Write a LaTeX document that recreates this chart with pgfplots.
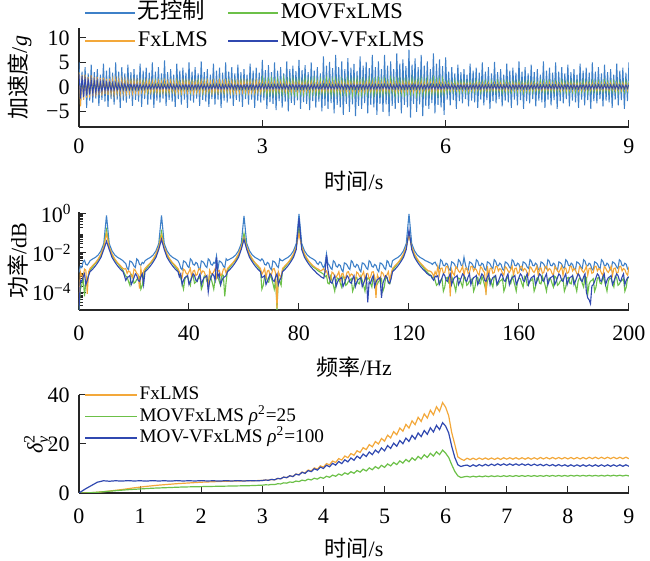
\documentclass[border=0pt]{standalone}
\usepackage{fontspec}
\setmainfont{Liberation Serif}
\newfontfamily\cjk{Noto Sans CJK SC}
\usepackage{pgfplots}
\usepackage{pgfplotstable}
\pgfplotsset{compat=1.18}
\definecolor{cNC}{RGB}{62,128,200}
\definecolor{cFX}{RGB}{243,168,58}
\definecolor{cMOV}{RGB}{108,192,72}
\definecolor{cMOVV}{RGB}{48,72,176}

% time signals (g)
\pgfplotstableread{
t nc fx mov movv
0.000 5.0 3.0 1.0 2.6
0.025 -3.65 -4.0 -0.9 -2.4
0.050 3.1 2.4 0.8 2.2
0.075 -2.6 -2.6 -0.85 -2.1
0.100 4.0 2.5 0.95 2.0
0.125 -4.3 -2.2 -0.8 -1.8
0.150 2.75 2.0 0.75 1.7
0.175 -2.8 -2.2 -1.0 -1.6
0.200 4.5 2.4 1.1 1.5
0.225 -3.2 -1.9 -0.85 -1.4
0.250 3.0 2.0 0.85 1.35
0.275 -2.4 -2.0 -0.9 -1.25
0.300 3.6 2.0 0.9 1.2
0.325 -3.9 -1.7 -0.8 -1.1
0.350 2.5 1.75 0.8 1.05
0.375 -2.65 -1.8 -0.95 -1.0
0.400 4.75 1.85 0.95 1.0
0.425 -3.0 -1.5 -0.75 -0.9
0.450 3.3 1.6 0.75 0.9
0.475 -4.1 -1.7 -1.1 -0.85
0.500 3.9 1.65 1.1 0.85
0.525 -2.5 -1.4 -0.85 -0.8
0.550 2.9 1.45 0.85 0.8
0.575 -3.65 -1.55 -0.9 -0.75
0.600 5.0 1.5 0.9 0.75
0.625 -2.6 -1.3 -1.0 -0.7
0.650 3.1 1.35 1.0 0.7
0.675 -4.3 -1.45 -0.8 -0.68
0.700 4.0 1.45 0.8 0.68
0.725 -2.8 -1.2 -0.95 -0.65
0.750 2.75 1.3 0.95 0.65
0.775 -3.2 -1.35 -0.75 -0.62
0.800 4.5 1.35 0.75 0.63
0.825 -2.4 -1.15 -1.1 -0.6
0.850 3.0 1.2 1.1 0.6
0.875 -3.9 -1.3 -0.85 -0.58
0.900 3.6 1.3 0.85 0.58
0.925 -2.65 -1.1 -0.9 -0.55
0.950 2.5 1.15 0.9 0.56
0.975 -3.0 -1.2 -1.0 -0.55
1.000 4.75 1.25 1.0 0.55
1.025 -4.1 -1.0 -0.8 -0.5
1.050 3.3 0.92 1.15 0.43
1.075 -2.5 -1.15 -1.05 -0.5
1.100 3.9 1.2 0.92 0.48
1.125 -3.65 -0.98 -1.15 -0.43
1.150 2.9 1.05 1.1 0.4
1.175 -2.6 -1.1 -0.92 -0.48
1.200 5.0 1.15 0.86 0.45
1.225 -4.3 -0.92 -1.1 -0.4
1.250 3.1 0.98 1.25 0.5
1.275 -2.8 -1.2 -0.86 -0.45
1.300 4.0 1.1 0.98 0.43
1.325 -3.2 -1.05 -1.25 -0.5
1.350 2.75 0.92 1.05 0.48
1.375 -2.4 -1.15 -0.98 -0.43
1.400 5.4 1.2 1.15 0.4
1.425 -3.9 -0.98 -1.05 -0.48
1.450 3.0 1.05 0.92 0.45
1.475 -2.65 -1.1 -1.15 -0.4
1.500 3.6 1.15 1.1 0.5
1.525 -3.0 -0.92 -0.92 -0.45
1.550 2.5 0.98 0.86 0.43
1.575 -4.1 -1.2 -1.1 -0.5
1.600 4.75 1.1 1.25 0.48
1.625 -2.5 -1.05 -0.86 -0.43
1.650 3.3 0.92 0.98 0.4
1.675 -3.65 -1.15 -1.25 -0.48
1.700 3.9 1.2 1.05 0.45
1.725 -2.6 -0.98 -0.98 -0.4
1.750 2.9 1.05 1.15 0.5
1.775 -4.3 -1.1 -1.05 -0.45
1.800 5.0 1.15 0.92 0.43
1.825 -2.8 -0.92 -1.15 -0.5
1.850 3.1 0.98 1.1 0.48
1.875 -3.2 -1.2 -0.92 -0.43
1.900 4.0 1.1 0.86 0.4
1.925 -2.4 -1.05 -1.1 -0.48
1.950 2.75 0.92 1.25 0.45
1.975 -3.9 -1.15 -0.86 -0.4
2.000 5.2 1.2 0.98 0.5
2.025 -2.65 -0.98 -1.25 -0.45
2.050 3.0 1.05 1.05 0.43
2.075 -3.0 -1.1 -0.98 -0.5
2.100 3.6 1.15 1.15 0.48
2.125 -4.1 -0.92 -1.05 -0.43
2.150 2.5 0.98 0.92 0.4
2.175 -2.5 -1.2 -1.15 -0.48
2.200 4.75 1.1 1.1 0.45
2.225 -3.65 -1.05 -0.92 -0.4
2.250 3.3 0.92 0.86 0.5
2.275 -2.6 -1.15 -1.1 -0.45
2.300 3.9 1.2 1.25 0.43
2.325 -4.3 -0.98 -0.86 -0.5
2.350 2.9 1.05 0.98 0.48
2.375 -2.8 -1.1 -1.25 -0.43
2.400 5.0 1.15 1.05 0.4
2.425 -3.2 -0.92 -0.98 -0.48
2.450 3.1 0.98 1.15 0.45
2.475 -2.4 -1.2 -1.05 -0.4
2.500 4.0 1.1 0.92 0.5
2.525 -3.9 -1.05 -1.15 -0.45
2.550 2.75 0.92 1.1 0.43
2.575 -2.65 -1.15 -0.92 -0.5
2.600 4.5 1.2 0.86 0.48
2.625 -3.0 -0.98 -1.1 -0.43
2.650 3.0 1.05 1.25 0.4
2.675 -4.1 -1.1 -0.86 -0.48
2.700 3.6 1.15 0.98 0.45
2.725 -2.5 -0.92 -1.25 -0.4
2.750 2.5 0.98 1.05 0.5
2.775 -3.65 -1.2 -0.98 -0.45
2.800 4.75 1.1 1.15 0.43
2.825 -2.6 -1.05 -1.05 -0.5
2.850 3.3 0.92 0.92 0.48
2.875 -4.3 -1.15 -1.15 -0.43
2.900 3.9 1.2 1.1 0.4
2.925 -2.8 -0.98 -0.92 -0.48
2.950 2.9 1.05 0.86 0.45
2.975 -3.2 -1.1 -1.1 -0.4
3.000 5.5 0.9 1.65 0.5
3.025 -2.75 -0.72 -1.12 -0.45
3.050 3.4 0.77 1.28 0.43
3.075 -4.5 -0.95 -1.65 -0.5
3.100 4.4 0.86 1.35 0.48
3.125 -3.1 -0.8 -1.28 -0.43
3.150 3.0 0.72 1.5 0.4
3.175 -3.5 -0.9 -1.35 -0.48
3.200 5.0 0.95 1.2 0.45
3.225 -4.75 -0.77 -1.5 -0.4
3.250 3.3 0.8 1.42 0.5
3.275 -2.9 -0.86 -1.2 -0.45
3.300 4.0 0.9 1.12 0.43
3.325 -4.25 -0.72 -1.42 -0.5
3.350 2.75 0.77 1.65 0.48
3.375 -3.0 -0.95 -1.12 -0.43
3.400 5.2 0.86 1.28 0.4
3.425 -5.0 -0.8 -1.65 -0.48
3.450 3.6 0.72 1.35 0.45
3.475 -3.25 -0.9 -1.28 -0.4
3.500 4.3 0.95 1.5 0.5
3.525 -3.75 -0.77 -1.35 -0.45
3.550 3.2 0.8 1.2 0.43
3.575 -2.75 -0.86 -1.5 -0.5
3.600 5.5 0.9 1.42 0.48
3.625 -4.5 -0.72 -1.2 -0.43
3.650 3.4 0.77 1.12 0.4
3.675 -3.1 -0.95 -1.42 -0.48
3.700 4.4 0.86 1.65 0.45
3.725 -3.5 -0.8 -1.12 -0.4
3.750 3.0 0.72 1.28 0.5
3.775 -4.75 -0.9 -1.65 -0.45
3.800 5.0 0.95 1.35 0.43
3.825 -2.9 -0.77 -1.28 -0.5
3.850 3.3 0.8 1.5 0.48
3.875 -4.25 -0.86 -1.35 -0.43
3.900 4.0 0.9 1.2 0.4
3.925 -3.0 -0.72 -1.5 -0.48
3.950 2.75 0.77 1.42 0.45
3.975 -5.0 -0.95 -1.2 -0.4
4.000 6.2 0.86 1.12 0.5
4.025 -3.9 -0.8 -1.42 -0.45
4.050 4.3 0.72 1.65 0.43
4.075 -4.5 -0.9 -1.12 -0.5
4.100 5.1 0.95 1.28 0.48
4.125 -3.3 -0.77 -1.65 -0.43
4.150 3.8 0.8 1.35 0.4
4.175 -5.4 -0.86 -1.28 -0.48
4.200 6.5 0.9 1.5 0.45
4.225 -3.7 -0.72 -1.35 -0.4
4.250 4.0 0.77 1.2 0.5
4.275 -4.2 -0.95 -1.5 -0.45
4.300 5.2 0.86 1.42 0.43
4.325 -5.7 -0.8 -1.2 -0.5
4.350 3.6 0.72 1.12 0.48
4.375 -3.5 -0.9 -1.42 -0.43
4.400 5.85 0.95 1.65 0.4
4.425 -5.1 -0.77 -1.12 -0.48
4.450 3.9 0.8 1.28 0.45
4.475 -3.6 -0.86 -1.65 -0.4
4.500 4.7 0.9 1.35 0.5
4.525 -6.0 -0.72 -1.28 -0.45
4.550 3.25 0.77 1.5 0.43
4.575 -3.9 -0.95 -1.35 -0.5
4.600 6.2 0.86 1.2 0.48
4.625 -4.5 -0.8 -1.5 -0.43
4.650 4.3 0.72 1.42 0.4
4.675 -3.3 -0.9 -1.2 -0.48
4.700 5.1 0.95 1.12 0.45
4.725 -5.4 -0.77 -1.42 -0.4
4.750 3.8 0.8 1.65 0.5
4.775 -3.7 -0.86 -1.12 -0.45
4.800 6.5 0.9 1.28 0.43
4.825 -4.2 -0.72 -1.65 -0.5
4.850 4.0 0.77 1.35 0.48
4.875 -5.7 -0.95 -1.28 -0.43
4.900 5.2 0.86 1.5 0.4
4.925 -3.5 -0.8 -1.35 -0.48
4.950 3.6 0.72 1.2 0.45
4.975 -5.1 -0.9 -1.5 -0.4
5.000 6.5 0.95 1.42 0.5
5.025 -3.6 -0.77 -1.2 -0.45
5.050 4.3 0.8 1.12 0.43
5.075 -6.0 -0.86 -1.42 -0.5
5.100 5.2 0.9 1.65 0.48
5.125 -3.9 -0.72 -1.12 -0.43
5.150 3.6 0.77 1.28 0.4
5.175 -4.5 -0.95 -1.65 -0.48
5.200 6.8 0.86 1.35 0.45
5.225 -3.3 -0.8 -1.28 -0.4
5.250 4.75 0.72 1.5 0.5
5.275 -5.4 -0.9 -1.35 -0.45
5.300 5.6 0.95 1.2 0.43
5.325 -3.7 -0.77 -1.5 -0.5
5.350 4.2 0.8 1.42 0.48
5.375 -4.2 -0.86 -1.2 -0.43
5.400 7.6 0.9 1.12 0.4
5.425 -6.3 -0.72 -1.42 -0.48
5.450 4.5 0.77 1.65 0.45
5.475 -3.5 -0.95 -1.12 -0.4
5.500 5.8 0.86 1.28 0.5
5.525 -5.1 -0.8 -1.65 -0.45
5.550 4.0 0.72 1.35 0.43
5.575 -3.6 -0.9 -1.28 -0.5
5.600 6.5 0.95 1.5 0.48
5.625 -6.0 -0.77 -1.35 -0.43
5.650 4.3 0.8 1.2 0.4
5.675 -3.9 -0.86 -1.5 -0.48
5.700 5.2 0.9 1.42 0.45
5.725 -4.5 -0.72 -1.2 -0.4
5.750 3.6 0.77 1.12 0.5
5.775 -3.3 -0.95 -1.42 -0.45
5.800 6.8 0.86 1.65 0.43
5.825 -5.4 -0.8 -1.12 -0.5
5.850 4.75 0.72 1.28 0.48
5.875 -3.7 -0.9 -1.65 -0.43
5.900 5.6 0.95 1.35 0.4
5.925 -4.2 -0.77 -1.28 -0.48
5.950 4.2 0.8 1.5 0.45
5.975 -5.7 -0.86 -1.35 -0.4
6.000 6.0 0.7 0.84 0.45
6.025 -2.6 -0.56 -1.05 -0.4
6.050 3.1 0.6 1.0 0.38
6.075 -3.8 -0.74 -0.84 -0.45
6.100 4.0 0.67 0.79 0.43
6.125 -2.7 -0.63 -1.0 -0.38
6.150 2.75 0.56 1.15 0.36
6.175 -4.5 -0.7 -0.79 -0.43
6.200 4.5 0.74 0.9 0.4
6.225 -2.9 -0.6 -1.15 -0.36
6.250 3.0 0.63 0.95 0.45
6.275 -3.4 -0.67 -0.9 -0.4
6.300 3.6 0.7 1.05 0.38
6.325 -2.5 -0.56 -0.95 -0.45
6.350 2.5 0.6 0.84 0.43
6.375 -4.0 -0.74 -1.05 -0.38
6.400 4.75 0.67 1.0 0.36
6.425 -2.8 -0.63 -0.84 -0.43
6.450 3.3 0.56 0.79 0.4
6.475 -3.15 -0.7 -1.0 -0.36
6.500 3.9 0.74 1.15 0.45
6.525 -4.3 -0.6 -0.79 -0.4
6.550 2.9 0.63 0.9 0.38
6.575 -2.6 -0.67 -1.15 -0.45
6.600 5.0 0.7 0.95 0.43
6.625 -3.8 -0.56 -0.9 -0.38
6.650 3.1 0.6 1.05 0.36
6.675 -2.7 -0.74 -0.95 -0.43
6.700 4.0 0.67 0.84 0.4
6.725 -4.5 -0.63 -1.05 -0.36
6.750 2.75 0.56 1.0 0.45
6.775 -2.9 -0.7 -0.84 -0.4
6.800 5.1 0.74 0.79 0.38
6.825 -3.4 -0.6 -1.0 -0.45
6.850 3.0 0.63 1.15 0.43
6.875 -2.5 -0.67 -0.79 -0.38
6.900 3.6 0.7 0.9 0.36
6.925 -4.0 -0.56 -1.15 -0.43
6.950 2.5 0.6 0.95 0.4
6.975 -2.8 -0.74 -0.9 -0.36
7.000 4.75 0.67 1.05 0.45
7.025 -3.15 -0.63 -0.95 -0.4
7.050 3.3 0.56 0.84 0.38
7.075 -4.3 -0.7 -1.05 -0.45
7.100 3.9 0.74 1.0 0.43
7.125 -2.6 -0.6 -0.84 -0.38
7.150 2.9 0.63 0.79 0.36
7.175 -3.8 -0.67 -1.0 -0.43
7.200 5.2 0.7 1.15 0.4
7.225 -2.7 -0.56 -0.79 -0.36
7.250 3.1 0.6 0.9 0.45
7.275 -4.5 -0.74 -1.15 -0.4
7.300 4.0 0.67 0.95 0.38
7.325 -2.9 -0.63 -0.9 -0.45
7.350 2.75 0.56 1.05 0.43
7.375 -3.4 -0.7 -0.95 -0.38
7.400 4.5 0.74 0.84 0.36
7.425 -2.5 -0.6 -1.05 -0.43
7.450 3.0 0.63 1.0 0.4
7.475 -4.0 -0.67 -0.84 -0.36
7.500 3.6 0.7 0.79 0.45
7.525 -2.8 -0.56 -1.0 -0.4
7.550 2.5 0.6 1.15 0.38
7.575 -3.15 -0.74 -0.79 -0.45
7.600 5.2 0.67 0.9 0.43
7.625 -4.3 -0.63 -1.15 -0.38
7.650 3.3 0.56 0.95 0.36
7.675 -2.6 -0.7 -0.9 -0.43
7.700 3.9 0.74 1.05 0.4
7.725 -3.8 -0.6 -0.95 -0.36
7.750 2.9 0.63 0.84 0.45
7.775 -2.7 -0.67 -1.05 -0.4
7.800 5.0 0.7 1.0 0.38
7.825 -4.5 -0.56 -0.84 -0.45
7.850 3.1 0.6 0.79 0.43
7.875 -2.9 -0.74 -1.0 -0.38
7.900 4.0 0.67 1.15 0.36
7.925 -3.4 -0.63 -0.79 -0.43
7.950 2.75 0.56 0.9 0.4
7.975 -2.5 -0.7 -1.15 -0.36
8.000 4.5 0.74 0.95 0.45
8.025 -4.0 -0.6 -0.9 -0.4
8.050 3.0 0.63 1.05 0.38
8.075 -2.8 -0.67 -0.95 -0.45
8.100 3.6 0.7 0.84 0.43
8.125 -3.15 -0.56 -1.05 -0.38
8.150 2.5 0.6 1.0 0.36
8.175 -4.3 -0.74 -0.84 -0.43
8.200 4.75 0.67 0.79 0.4
8.225 -2.6 -0.63 -1.0 -0.36
8.250 3.3 0.56 1.15 0.45
8.275 -3.8 -0.7 -0.79 -0.4
8.300 3.9 0.74 0.9 0.38
8.325 -2.7 -0.6 -1.15 -0.45
8.350 2.9 0.63 0.95 0.43
8.375 -4.5 -0.67 -0.9 -0.38
8.400 5.0 0.7 1.05 0.36
8.425 -2.9 -0.56 -0.95 -0.43
8.450 3.1 0.6 0.84 0.4
8.475 -3.4 -0.74 -1.05 -0.36
8.500 4.0 0.67 1.0 0.45
8.525 -2.5 -0.63 -0.84 -0.4
8.550 2.75 0.56 0.79 0.38
8.575 -4.0 -0.7 -1.0 -0.45
8.600 4.5 0.74 1.15 0.43
8.625 -2.8 -0.6 -0.79 -0.38
8.650 3.0 0.63 0.9 0.36
8.675 -3.15 -0.67 -1.15 -0.43
8.700 3.6 0.7 0.95 0.4
8.725 -4.3 -0.56 -0.9 -0.36
8.750 2.5 0.6 1.05 0.45
8.775 -2.6 -0.74 -0.95 -0.4
8.800 4.75 0.67 0.84 0.38
8.825 -3.8 -0.63 -1.05 -0.45
8.850 3.3 0.56 1.0 0.43
8.875 -2.7 -0.7 -0.84 -0.38
8.900 3.9 0.74 0.79 0.36
8.925 -4.5 -0.6 -1.0 -0.43
8.950 2.9 0.63 1.15 0.4
8.975 -2.9 -0.67 -0.79 -0.36
9.000 5.0 0.7 0.9 0.45
}\timedata

% power spectra
\pgfplotstableread{
f nc mov fx movv
0 1e-3 1e-5 2e-5 1.2e-5
0.5 2.1e-3 1.4e-4 1.1e-3 4e-4
1 1.8e-3 2.2e-4 7e-4 3.5e-4
1.5 3.5e-3 6.5e-4 5.5e-4 6e-4
2 4.2e-3 6e-5 1.5e-3 8.5e-4
2.5 2.6e-3 3.5e-4 1.3e-3 2.4e-4
3 2.4e-3 3.2e-4 8e-5 4e-4
3.5 3e-3 8e-4 1.1e-3 7e-4
4 4e-3 1.3e-3 1.6e-3 1.1e-3
5 5e-3 2e-3 2.3e-3 1.5e-3
6 6e-3 3e-3 3.2e-3 2.2e-3
7 8e-3 4.5e-3 5e-3 3.5e-3
8 1.3e-2 8e-3 9e-3 6e-3
9 3e-2 2e-2 2e-2 1.5e-2
10 0.85 0.15 0.1 0.04
11 3e-2 2e-2 2e-2 1.5e-2
12 1.3e-2 8e-3 9e-3 6e-3
13 8e-3 4.5e-3 5e-3 3.5e-3
14 6e-3 3e-3 3.2e-3 2.2e-3
15 5e-3 2e-3 2.3e-3 1.5e-3
16 4e-3 1.3e-3 1.6e-3 1.1e-3
16.5 3.3e-3 9e-4 1.5e-3 7e-4
17 2.9e-3 6.5e-4 1.6e-3 4e-4
17.5 1.7e-3 6e-4 9e-4 5.5e-4
18 1.4e-3 3.5e-4 1.2e-3 6e-4
18.5 3.9e-3 2.2e-4 1.1e-3 7e-4
19 3.6e-3 8e-4 7e-4 2.4e-4
19.5 3e-3 7e-4 5.5e-4 3.5e-4
20 2.1e-3 2.8e-4 1.5e-3 5.5e-4
20.5 1.8e-3 3.2e-4 1.3e-3 8.5e-4
21 5e-3 4.5e-4 9e-4 7e-4
21.5 4.2e-3 5e-4 8e-4 4e-4
22 2.6e-3 6e-4 1.5e-4 3.5e-4
22.5 2.4e-3 1.4e-4 1.6e-3 6e-4
23 3.3e-3 2.2e-4 5.5e-4 8.5e-4
23.5 2.9e-3 6.5e-4 1.2e-3 2.4e-4
24 4e-3 1.3e-3 1.6e-3 1.1e-3
25 5e-3 2e-3 2.3e-3 1.5e-3
26 6e-3 3e-3 3.2e-3 2.2e-3
27 8e-3 4.5e-3 5e-3 3.5e-3
28 1.3e-2 8e-3 9e-3 6e-3
29 3e-2 2e-2 2e-2 1.5e-2
30 0.85 0.12 0.08 0.05
31 3e-2 2e-2 2e-2 1.5e-2
32 1.3e-2 8e-3 9e-3 6e-3
33 8e-3 4.5e-3 5e-3 3.5e-3
34 6e-3 3e-3 3.2e-3 2.2e-3
35 5e-3 2e-3 2.3e-3 1.5e-3
36 4e-3 1.3e-3 1.6e-3 1.1e-3
36.5 2.9e-3 8e-4 1.1e-3 6e-4
37 1.7e-3 5e-4 7e-4 8.5e-4
37.5 1.4e-3 2.8e-4 5.5e-4 2.4e-4
38 3.9e-3 1.4e-4 1.5e-3 4e-4
38.5 3.6e-3 4.5e-4 1.3e-3 5.5e-4
39 3e-3 6.5e-4 9e-4 6e-4
39.5 2.1e-3 6e-4 8e-4 7e-4
40 1.8e-3 3.5e-4 1.1e-3 2.4e-4
40.5 5e-3 2.2e-4 1.6e-3 3.5e-4
41 4.2e-3 8e-4 5.5e-4 5.5e-4
41.5 2.6e-3 7e-4 1.2e-3 8.5e-4
42 2.4e-3 2.8e-4 1.3e-3 7e-4
42.5 3.3e-3 3.2e-4 7e-4 4e-4
43 2.9e-3 4.5e-4 8e-4 3.5e-4
43.5 1.7e-3 5e-4 1.5e-3 6e-4
44 1.4e-3 6e-4 1.6e-3 8.5e-4
44.5 3.9e-3 1.4e-4 9e-4 2.4e-4
45 3.6e-3 2.2e-4 1.2e-3 4e-4
45.5 3e-3 6.5e-4 1.1e-3 5.5e-4
46 2.1e-3 7e-4 7e-4 6e-4
46.5 1.8e-3 3.5e-4 5.5e-4 7e-4
47 5e-3 3.2e-4 1.5e-4 1e-4
47.5 4.2e-3 8e-4 1.3e-3 3.5e-4
48 2.6e-3 5e-4 9e-4 5.5e-4
48.5 2.4e-3 2.8e-4 8e-4 8.5e-4
49 3.3e-3 1.4e-4 1.1e-3 7e-4
49.5 2.9e-3 4.5e-4 1.6e-3 4e-4
50 7e-3 6.5e-4 5.5e-4 6e-3
50.5 1.4e-3 6e-4 1.2e-3 6e-4
51 3.9e-3 3.5e-4 1.3e-3 8.5e-4
51.5 3.6e-3 2.2e-4 7e-4 2.4e-4
52 3e-3 8e-4 8e-4 4e-4
52.5 2.1e-3 7e-4 1.5e-3 5.5e-4
53 1.8e-3 6e-5 1.6e-3 6e-4
53.5 5e-3 3.2e-4 9e-4 7e-4
54 4.2e-3 1.3e-3 1.6e-3 1.1e-3
55 5e-3 2e-3 2.3e-3 1.5e-3
56 6e-3 3e-3 3.2e-3 2.2e-3
57 8e-3 4.5e-3 5e-3 3.5e-3
58 1.3e-2 8e-3 9e-3 6e-3
59 3e-2 2e-2 2e-2 1.5e-2
60 0.8 0.1 0.06 0.05
61 3e-2 2e-2 2e-2 1.5e-2
62 1.3e-2 8e-3 9e-3 6e-3
63 8e-3 4.5e-3 5e-3 3.5e-3
64 6e-3 3e-3 3.2e-3 2.2e-3
65 5e-3 2e-3 2.3e-3 1.5e-3
66 4e-3 1.3e-3 1.6e-3 1.1e-3
66.5 5e-3 1.4e-4 8e-4 5.5e-4
67 4.2e-3 2.2e-4 1.1e-3 6e-4
67.5 2.6e-3 6.5e-4 1.6e-3 7e-4
68 2.4e-3 7e-4 5.5e-4 2.4e-4
68.5 3.3e-3 3.5e-4 1.2e-3 3.5e-4
69 2.9e-3 3.2e-4 1.3e-3 5.5e-4
69.5 1.7e-3 8e-4 7e-4 8.5e-4
70 1.4e-3 5e-4 8e-4 7e-4
70.5 3.9e-3 2.8e-4 1.5e-3 4e-4
71 3.6e-3 1.4e-4 1.6e-3 3.5e-4
71.5 3e-3 4.5e-4 9e-4 6e-4
72 2.1e-3 1.2e-5 1.5e-5 8.5e-4
72.5 1.8e-3 6e-4 1.1e-3 2.4e-4
73 5e-3 3.5e-4 7e-4 4e-4
73.5 4.2e-3 2.2e-4 5.5e-4 5.5e-4
74 4e-3 1.3e-3 1.6e-3 1.1e-3
75 5e-3 2e-3 2.3e-3 1.5e-3
76 6e-3 3e-3 3.2e-3 2.2e-3
77 8e-3 4.5e-3 5e-3 3.5e-3
78 1.3e-2 8e-3 9e-3 6e-3
79 3e-2 2e-2 2e-2 1.5e-2
80 1.0 0.2 0.1 0.6
81 3e-2 2e-2 2e-2 1.5e-2
82 1.3e-2 8e-3 9e-3 6e-3
83 8e-3 4.5e-3 5e-3 3.5e-3
84 6e-3 3e-3 3.2e-3 2.2e-3
85 5e-3 2e-3 2.3e-3 1.5e-3
86 4e-3 1.6e-3 1.8e-3 1.1e-3
86.5 3e-3 1.4e-3 1.6e-3 9e-4
87 2.6e-3 1.2e-3 1.5e-3 8e-4
87.5 3.5e-3 1.1e-3 1.3e-3 7e-4
88 3.3e-3 1e-3 1.2e-3 6e-4
88.5 2.2e-3 9e-4 1.4e-3 5.5e-4
89 1.7e-3 8e-4 1.6e-3 5e-4
89.5 2.8e-3 6e-4 1e-3 1.2e-3
90 9e-3 7e-4 1.2e-3 8e-3
90.5 2.9e-3 2.8e-4 7.7e-4 1.5e-3
91 2.4e-3 2.6e-4 4.9e-4 5.6e-4
91.5 1.7e-3 6.4e-4 3.9e-4 3.2e-4
92 1.44e-3 4e-4 1.05e-3 2.8e-4
92.5 4e-3 2.2e-4 9.1e-4 4.8e-4
93 3.4e-3 1.1e-4 6.3e-4 6.8e-4
93.5 2.1e-3 3.6e-4 5.6e-4 1.9e-4
94 1.9e-3 5.2e-4 7.7e-4 3.2e-4
94.5 2.6e-3 4.8e-4 1.1e-3 4.4e-4
95 2.3e-3 2.8e-4 3.9e-4 4.8e-4
95.5 1.4e-3 1.8e-4 8.4e-4 5.6e-4
96 1.1e-3 6.4e-4 9.1e-4 1.9e-4
96.5 3.1e-3 5.6e-4 4.9e-4 2.8e-4
97 2.9e-3 2.2e-4 5.6e-4 4.4e-4
97.5 2.4e-3 2.6e-4 1.05e-3 6.8e-4
98 1.7e-3 3.6e-4 1.1e-3 5.6e-4
98.5 1.44e-3 4e-4 6.3e-4 3.2e-4
99 4e-3 4.8e-4 8.4e-4 2.8e-4
99.5 3.4e-3 1.1e-4 7.7e-4 4.8e-4
100 2.1e-3 1.8e-4 4.9e-4 6.8e-4
100.5 1.9e-3 5.2e-4 3.9e-4 1.9e-4
101 2.6e-3 5.6e-4 1.05e-3 3.2e-4
101.5 2.3e-3 2.8e-4 9.1e-4 4.4e-4
102 1.4e-3 2.6e-4 6.3e-4 4.8e-4
102.5 1.1e-3 6.4e-4 5.6e-4 5.6e-4
103 3.1e-3 4e-4 7.7e-4 1.9e-4
103.5 2.9e-3 2.2e-4 1.1e-3 2.8e-4
104 2.4e-3 1.1e-4 3.9e-4 4.4e-4
104.5 1.7e-3 3.6e-4 8.4e-4 6.8e-4
105 1.44e-3 5.2e-4 9.1e-4 3e-5
105.5 4e-3 4.8e-4 4.9e-4 3.2e-4
106 3.4e-3 2.8e-4 5.6e-4 2.8e-4
106.5 2.1e-3 1.8e-4 1.05e-3 4.8e-4
107 1.9e-3 6.4e-4 1.1e-3 6.8e-4
107.5 2.6e-3 5.6e-4 6.3e-4 1.9e-4
108 2.3e-3 2.2e-4 5e-5 3.2e-4
108.5 1.4e-3 2.6e-4 7.7e-4 4.4e-4
109 1.1e-3 3.6e-4 4.9e-4 4.8e-4
109.5 3.1e-3 4e-4 3.9e-4 5.6e-4
110 2.9e-3 4.8e-4 1.05e-3 5e-5
110.5 2.4e-3 1.1e-4 9.1e-4 2.8e-4
111 1.7e-3 1.8e-4 6.3e-4 4.4e-4
111.5 1.44e-3 5.2e-4 5.6e-4 6.8e-4
112 4e-3 5.6e-4 7.7e-4 5.6e-4
112.5 3.4e-3 2.8e-4 1.1e-3 3.2e-4
113 2.1e-3 2.6e-4 3.9e-4 2.8e-4
113.5 1.9e-3 6.4e-4 8.4e-4 4.8e-4
114 4e-3 1.3e-3 1.6e-3 1.1e-3
115 5e-3 2e-3 2.3e-3 1.5e-3
116 6e-3 3e-3 3.2e-3 2.2e-3
117 8e-3 4.5e-3 5e-3 3.5e-3
118 1.3e-2 8e-3 9e-3 6e-3
119 3e-2 2e-2 2e-2 1.5e-2
120 1.0 0.1 0.08 0.15
121 3e-2 2e-2 2e-2 1.5e-2
122 1.3e-2 8e-3 9e-3 6e-3
123 8e-3 4.5e-3 5e-3 3.5e-3
124 6e-3 3e-3 3.2e-3 2.2e-3
125 5e-3 2e-3 2.3e-3 1.5e-3
126 4e-3 1.3e-3 1.6e-3 1.1e-3
126.5 3.8e-3 1.1e-3 1.4e-3 9e-4
127 3.5e-3 9e-4 1.2e-3 8e-4
127.5 3.2e-3 8e-4 1.2e-3 7e-4
128 3e-3 7e-4 1.1e-3 7e-4
128.5 2.6e-3 5e-4 9e-4 5e-4
129 3.1e-3 6.4e-4 6.3e-4 4e-4
129.5 3.4e-3 4e-4 1.1e-3 6.5e-4
130 2.4e-3 2.2e-4 7.7e-4 6e-4
130.5 1.9e-3 2.6e-4 2.1e-3 7e-4
131 1.6e-3 3.6e-4 7.2e-4 2.4e-4
131.5 4.5e-3 4e-4 1.6e-3 3.5e-4
132 3.8e-3 4.8e-4 1.7e-3 5.5e-4
132.5 2.3e-3 1.1e-4 9.1e-4 8.5e-4
133 2.2e-3 1.8e-4 1e-3 7e-4
133.5 3e-3 5.2e-4 2e-3 4e-4
134 2.6e-3 5.6e-4 2.1e-3 3.5e-4
134.5 1.5e-3 2.8e-4 1.2e-3 6e-4
135 1.3e-3 2.6e-4 6e-5 8.5e-4
135.5 3.5e-3 6.4e-4 1.4e-3 2.4e-4
136 3.2e-3 4e-4 9.1e-4 4e-4
136.5 2.7e-3 2.2e-4 7.2e-4 5.5e-4
137 1.9e-3 1.1e-4 2e-3 6e-4
137.5 1.6e-3 3.6e-4 1.7e-3 7e-4
138 4.5e-3 5.2e-4 1.2e-3 2.4e-4
138.5 3.8e-3 4.8e-4 1e-3 3.5e-4
139 2.3e-3 2.8e-4 1.4e-3 5.5e-4
139.5 2.2e-3 1.8e-4 2.1e-3 8.5e-4
140 6e-3 6.4e-4 7.2e-4 7e-4
140.5 2.6e-3 5.6e-4 1.6e-3 4e-4
141 1.5e-3 2.2e-4 1.7e-3 3.5e-4
141.5 1.3e-3 2.6e-4 9.1e-4 6e-4
142 3.5e-3 3.6e-4 1e-3 8.5e-4
142.5 3.2e-3 4e-4 2e-3 2.4e-4
143 2.7e-3 4.8e-4 2.1e-3 4e-4
143.5 1.9e-3 1.1e-4 1.2e-3 5.5e-4
144 1.6e-3 1.8e-4 1.6e-3 6e-4
144.5 4.5e-3 5.2e-4 1.4e-3 7e-4
145 3.8e-3 5.6e-4 9.1e-4 2.4e-4
145.5 2.3e-3 2.8e-4 7.2e-4 3.5e-4
146 2.2e-3 2.6e-4 2e-3 5.5e-4
146.5 3e-3 6.4e-4 1.7e-3 8.5e-4
147 2.6e-3 4e-4 1.2e-3 7e-4
147.5 1.5e-3 2.2e-4 1e-3 4e-4
148 1.3e-3 1.1e-4 7e-5 3.5e-4
148.5 3.5e-3 3.6e-4 2.1e-3 6e-4
149 3.2e-3 5.2e-4 7.2e-4 8.5e-4
149.5 2.7e-3 4.8e-4 1.6e-3 2.4e-4
150 1.9e-3 2.8e-4 1.7e-3 4e-4
150.5 1.6e-3 1.8e-4 9.1e-4 5.5e-4
151 4.5e-3 6.4e-4 1e-3 6e-4
151.5 3.8e-3 5.6e-4 2e-3 7e-4
152 2.3e-3 2.2e-4 2.1e-3 2.4e-4
152.5 2.2e-3 2.6e-4 1.2e-3 3.5e-4
153 3e-3 3.6e-4 1.6e-3 5.5e-4
153.5 2.6e-3 4e-4 1.4e-3 8.5e-4
154 1.5e-3 4.8e-4 9.1e-4 7e-4
154.5 1.3e-3 1.1e-4 7.2e-4 4e-4
155 3.5e-3 1.8e-4 2e-3 3.5e-4
155.5 3.2e-3 5.2e-4 1.7e-3 6e-4
156 2.7e-3 5.6e-4 1.2e-3 8.5e-4
156.5 1.9e-3 2.8e-4 1e-3 2.4e-4
157 1.6e-3 2.6e-4 1.4e-3 4e-4
157.5 4.5e-3 6.4e-4 2.1e-3 5.5e-4
158 3.8e-3 4e-4 7.2e-4 6e-4
158.5 2.3e-3 2.2e-4 1.6e-3 7e-4
159 2.2e-3 1.1e-4 1.7e-3 2.4e-4
159.5 3e-3 3.6e-4 9.1e-4 3.5e-4
160 2.6e-3 5.2e-4 1e-3 5.5e-4
160.5 1.5e-3 4.8e-4 2e-3 8.5e-4
161 1.3e-3 2.8e-4 2.1e-3 7e-4
161.5 3.5e-3 1.8e-4 1.2e-3 4e-4
162 3.2e-3 6.4e-4 1.6e-3 3.5e-4
162.5 2.7e-3 5.6e-4 1.4e-3 6e-4
163 1.9e-3 2.2e-4 9.1e-4 8.5e-4
163.5 1.6e-3 2.6e-4 7.2e-4 2.4e-4
164 4.5e-3 3.6e-4 2e-3 4e-4
164.5 3.8e-3 4e-4 1.7e-3 5.5e-4
165 2.3e-3 4.8e-4 1.2e-3 6e-4
165.5 2.2e-3 1.1e-4 1e-3 7e-4
166 3e-3 1.8e-4 1.4e-3 2.4e-4
166.5 2.6e-3 5.2e-4 2.1e-3 3.5e-4
167 1.5e-3 5.6e-4 7.2e-4 5.5e-4
167.5 1.3e-3 2.8e-4 1.6e-3 8.5e-4
168 3.5e-3 2.6e-4 1.7e-3 7e-4
168.5 3.2e-3 6.4e-4 9.1e-4 4e-4
169 2.7e-3 4e-4 1e-3 3.5e-4
169.5 1.9e-3 2.2e-4 2e-3 6e-4
170 1.6e-3 1.1e-4 2.1e-3 8.5e-4
170.5 4.5e-3 3.6e-4 1.2e-3 2.4e-4
171 3.8e-3 5.2e-4 1.6e-3 4e-4
171.5 2.3e-3 4.8e-4 1.4e-3 5.5e-4
172 2.2e-3 2.8e-4 9.1e-4 6e-4
172.5 3e-3 1.8e-4 7.2e-4 7e-4
173 2.6e-3 6.4e-4 2e-3 2.4e-4
173.5 1.5e-3 5.6e-4 1.7e-3 3.5e-4
174 1.3e-3 2.2e-4 1.2e-3 5.5e-4
174.5 3.5e-3 2.6e-4 1e-3 8.5e-4
175 3.2e-3 3.6e-4 1.4e-3 7e-4
175.5 2.7e-3 4e-4 2.1e-3 4e-4
176 1.9e-3 4.8e-4 7.2e-4 3.5e-4
176.5 1.6e-3 1.1e-4 1.6e-3 6e-4
177 4.5e-3 1.8e-4 1.7e-3 8.5e-4
177.5 3.8e-3 5.2e-4 9.1e-4 2.4e-4
178 2.3e-3 5.6e-4 1e-3 4e-4
178.5 2.2e-3 2.8e-4 2e-3 5.5e-4
179 3e-3 2.6e-4 2.1e-3 6e-4
179.5 2.6e-3 6.4e-4 1.2e-3 7e-4
180 1.5e-3 4e-4 1.6e-3 2.4e-4
180.5 1.3e-3 2.2e-4 1.4e-3 3.5e-4
181 3.5e-3 1.1e-4 9.1e-4 5.5e-4
181.5 3.2e-3 3.6e-4 7.2e-4 8.5e-4
182 2.7e-3 5.2e-4 2e-3 7e-4
182.5 1.9e-3 4.8e-4 1.7e-3 4e-4
183 1.6e-3 2.8e-4 1.2e-3 3.5e-4
183.5 4.5e-3 1.8e-4 1e-3 6e-4
184 3.8e-3 6.4e-4 1.4e-3 8.5e-4
184.5 2.3e-3 5.6e-4 2.1e-3 1e-4
185 2.2e-3 8e-5 7.2e-4 5e-5
185.5 3e-3 2.6e-4 1.6e-3 4e-5
186 2.6e-3 3.6e-4 1.7e-3 2.5e-5
186.5 1.5e-3 4e-4 9.1e-4 2e-4
187 1.3e-3 4.8e-4 1e-3 2.4e-4
187.5 3.5e-3 1.1e-4 2e-3 3.5e-4
188 3.2e-3 1.8e-4 2.1e-3 5.5e-4
188.5 2.7e-3 5.2e-4 1.2e-3 8.5e-4
189 1.9e-3 5.6e-4 1.6e-3 7e-4
189.5 1.6e-3 2.8e-4 1.4e-3 4e-4
190 4.5e-3 2.6e-4 9.1e-4 3.5e-4
190.5 3.8e-3 6.4e-4 7.2e-4 6e-4
191 2.3e-3 4e-4 2e-3 8.5e-4
191.5 2.2e-3 2.2e-4 1.7e-3 2.4e-4
192 3e-3 1.1e-4 1.2e-3 4e-4
192.5 2.6e-3 3.6e-4 1e-3 5.5e-4
193 1.5e-3 5.2e-4 1.4e-3 6e-4
193.5 1.3e-3 4.8e-4 2.1e-3 7e-4
194 3.5e-3 2.8e-4 7.2e-4 2.4e-4
194.5 3.2e-3 1.8e-4 1.6e-3 3.5e-4
195 2.7e-3 6.4e-4 1.7e-3 5.5e-4
195.5 1.9e-3 5.6e-4 9.1e-4 8.5e-4
196 1.6e-3 2.2e-4 1e-3 7e-4
196.5 4.5e-3 2.6e-4 2e-3 4e-4
197 3.8e-3 3.6e-4 2.1e-3 3.5e-4
197.5 2.3e-3 4e-4 1.2e-3 6e-4
198 2.2e-3 4.8e-4 1.6e-3 8.5e-4
198.5 3e-3 1.1e-4 1.4e-3 2.4e-4
199 2.6e-3 1.8e-4 9.1e-4 4e-4
199.5 1.5e-3 5.2e-4 7.2e-4 5.5e-4
200 1.3e-3 5.6e-4 2e-3 6e-4
}\specdata

% variance curves
\pgfplotstableread{
t fx mov movv
0.0 0 0 0
0.1 0 0 1.6
0.2 0.1 0.15 3.0
0.3 0.3 0.3 4.4
0.4 0.55 0.5 5.0
0.5 0.8 0.75 4.8
0.6 1.1 0.95 5.0
0.7 1.4 1.15 4.85
0.8 1.75 1.35 5.05
0.9 2.1 1.5 4.9
1.0 2.4 1.65 5.0
1.1 2.7 1.8 4.85
1.2 2.95 1.95 5.05
1.3 3.2 2.05 4.9
1.4 3.4 2.15 5.0
1.5 3.6 2.25 4.85
1.6 3.8 2.35 5.05
1.7 3.95 2.45 4.9
1.8 4.1 2.5 5.0
1.9 4.25 2.55 4.9
2.0 4.4 2.6 5.05
2.1 4.5 2.65 4.9
2.2 4.6 2.7 5.0
2.3 4.7 2.75 4.85
2.4 4.8 2.8 5.05
2.5 4.85 2.85 4.9
2.6 4.9 2.9 5.05
2.7 4.95 2.95 4.9
2.8 5.0 3.0 5.05
2.9 5.05 3.1 4.95
3.0 5.1 3.2 5.1
3.05 5.3 3.35 5.3
3.10 5.2 3.3 5.2
3.15 5.55 3.5 5.55
3.20 5.35 3.42 5.35
3.25 5.95 3.78 5.95
3.30 5.8 3.7 5.8
3.35 6.5 4.15 6.5
3.40 6.25 4.02 6.25
3.45 7.05 4.5 7.05
3.50 6.7 4.32 6.7
3.55 7.75 4.88 7.7
3.60 7.45 4.66 7.35
3.65 8.55 5.26 8.45
3.70 8.2 4.98 8.0
3.75 9.4 5.65 9.15
3.80 9.0 5.32 8.7
3.85 10.25 6.03 9.9
3.90 9.75 5.66 9.35
3.95 11.05 6.42 10.6
4.00 10.55 6.0 10.0
4.05 12.0 6.85 11.35
4.10 11.5 6.4 10.7
4.15 13.05 7.3 12.1
4.20 12.45 6.82 11.35
4.25 14.05 7.77 12.85
4.30 13.45 7.22 12.0
4.35 15.1 8.23 13.55
4.40 14.4 7.64 12.7
4.45 16.1 8.7 14.3
4.50 15.4 8.05 13.35
4.55 17.25 9.2 15.05
4.60 16.55 8.52 14.1
4.65 18.5 9.72 15.9
4.70 17.7 9.0 14.9
4.75 19.75 10.25 16.75
4.80 18.85 9.48 15.65
4.85 21.0 10.77 17.5
4.90 20.0 9.95 16.45
4.95 22.25 11.3 18.4
5.00 21.15 10.45 17.2
5.05 23.6 11.85 19.35
5.10 22.5 11.05 18.2
5.15 25.05 12.47 20.35
5.20 23.8 11.6 19.1
5.25 26.5 13.1 21.4
5.30 25.2 12.2 20.1
5.35 28.0 13.7 22.4
5.40 26.5 12.75 21.05
5.45 29.45 14.35 23.5
5.50 27.9 13.35 22.0
5.55 30.9 14.95 24.5
5.60 29.2 13.92 23.0
5.65 32.3 15.6 25.5
5.70 30.6 14.5 23.95
5.75 33.8 16.2 26.6
5.80 31.9 15.08 24.9
5.85 35.2 16.85 27.6
5.90 33.3 15.65 25.9
5.95 36.9 17.5 28.7
6.00 35.0 16.25 27.3
6.05 31.5 14.5 24.5
6.10 24.6 11.5 19.0
6.15 19.8 8.8 14.5
6.20 14.7 7.0 11.5
6.25 13.9 6.3 10.8
6.30 13.3 6.6 11.2
6.35 14.2 6.8 11.4
6.40 13.6 6.5 10.8
6.45 14.2 6.85 11.5
6.50 13.6 6.55 10.9
6.55 14.3 6.9 11.6
6.60 13.7 6.6 11.0
6.65 14.3 6.95 11.7
6.70 13.7 6.65 11.1
6.75 14.3 7.0 11.8
6.80 13.7 6.7 11.2
6.85 14.3 7.0 11.9
6.90 13.7 6.7 11.3
6.95 14.4 7.05 11.9
7.00 13.8 6.75 11.3
7.05 14.4 7.05 11.9
7.10 13.8 6.75 11.3
7.15 14.4 7.1 11.9
7.20 13.8 6.8 11.3
7.25 14.4 7.1 11.9
7.30 13.8 6.8 11.3
7.35 14.4 7.1 11.8
7.40 13.8 6.8 11.2
7.45 14.4 7.1 11.8
7.50 13.8 6.8 11.2
7.55 14.5 7.1 11.7
7.60 13.9 6.8 11.1
7.65 14.5 7.15 11.7
7.70 13.9 6.85 11.1
7.75 14.5 7.15 11.6
7.80 13.9 6.85 11.0
7.85 14.5 7.15 11.6
7.90 13.9 6.85 11.0
7.95 14.5 7.15 11.5
8.00 13.9 6.85 10.9
8.05 14.5 7.2 11.5
8.10 13.9 6.9 10.9
8.15 14.5 7.2 11.5
8.20 13.9 6.9 10.9
8.25 14.5 7.2 11.5
8.30 13.9 6.9 10.9
8.35 14.6 7.2 11.5
8.40 14.0 6.9 10.9
8.45 14.6 7.2 11.5
8.50 14.0 6.9 10.9
8.55 14.6 7.2 11.5
8.60 14.0 6.9 10.9
8.65 14.6 7.25 11.5
8.70 14.0 6.95 10.9
8.75 14.6 7.25 11.5
8.80 14.0 6.95 10.9
8.85 14.6 7.25 11.5
8.90 14.0 6.95 10.9
8.95 14.6 7.25 11.5
9.00 14.0 6.95 10.9
}\vardata

\pgfplotsset{
  base/.style={
    scale only axis, width=275pt,
    axis lines=left, axis line style={-, line width=0.6pt, black!85},
    tick align=inside, major tick length=3.5pt, minor tick length=2pt,
    tick style={line width=0.5pt, black!85},
    ticklabel style={font=\fontsize{11}{13}\selectfont, inner sep=0pt},
    label style={font=\fontsize{11}{13}\selectfont},
    yticklabel style={anchor=east, xshift=-4.5pt},
    legend cell align=left,
  },
}

\begin{document}
\begin{tikzpicture}
\path[use as bounding box] (0pt,0pt) rectangle (325pt,-280.5pt);

% ---------- top: time signals ----------
\begin{axis}[base,
  at={(39.5pt,-63.5pt)}, anchor=south west, height=49.5pt,
  xmin=0, xmax=9, ymin=-8.2, ymax=12,
  xtick={0,3,6,9}, xticklabels={0,3,6,9},
  ytick={-5,0,5,10}, yticklabels={−5,0,5,10},
  xticklabel style={anchor=center, yshift=-9.8pt},
  xlabel={{\cjk 时间}/s}, ylabel={{\cjk 加速度}/\textit{g}},
  xlabel style={at={(axis description cs:0.5,-0.545)}, anchor=center},
  ylabel style={at={(axis description cs:-0.1073,0.5)}, anchor=center},
  legend columns=2,
  legend style={draw=none, fill=none, at={(axis description cs:0,1)}, anchor=north west,
    xshift=2.5pt, yshift=14pt, inner sep=0pt,
    font=\fontsize{11.2}{13}\selectfont,
    nodes={inner xsep=0.8pt, inner ysep=0.3pt, text height=9pt, text depth=3.3pt},
    /tikz/every even column/.append style={column sep=9pt}, row sep=1.1pt},
  legend image code/.code={\draw[#1, line width=1pt] (0pt,0pt) -- (25pt,0pt);},
]
\addplot[cNC, line width=0.5pt] table[x=t, y=nc] {\timedata};
\addlegendentry{{\cjk 无控制}}
\addplot[cMOV, line width=0.45pt] table[x=t, y=mov] {\timedata};
\addlegendentry{MOVFxLMS}
\addplot[cFX, line width=0.45pt] table[x=t, y=fx] {\timedata};
\addlegendentry{FxLMS}
\addplot[cMOVV, line width=0.45pt] table[x=t, y=movv] {\timedata};
\addlegendentry{MOV-VFxLMS}
\end{axis}

% ---------- middle: spectra ----------
\begin{axis}[base,
  at={(39.5pt,-155pt)}, anchor=south west, height=49pt,
  ymode=log,
  xmin=0, xmax=200, ymin=1.2e-5, ymax=1.26,
  xtick={0,40,80,120,160,200}, xticklabels={0,40,80,120,160,200},
  ytick={1e-4,1e-2,1},
  yticklabels={10\textsuperscript{−4},10\textsuperscript{−2},10\textsuperscript{0}},
  minor ytick={2e-5,3e-5,4e-5,5e-5,6e-5,7e-5,8e-5,9e-5,
    2e-4,3e-4,4e-4,5e-4,6e-4,7e-4,8e-4,9e-4,
    2e-3,3e-3,4e-3,5e-3,6e-3,7e-3,8e-3,9e-3,
    2e-2,3e-2,4e-2,5e-2,6e-2,7e-2,8e-2,9e-2,
    0.2,0.3,0.4,0.5,0.6,0.7,0.8,0.9},
  xticklabel style={anchor=center, yshift=-11.5pt},
  yticklabel style={xshift=1pt},
  xlabel={{\cjk 频率}/Hz}, ylabel={{\cjk 功率}/dB},
  xlabel style={at={(axis description cs:0.5,-0.582)}, anchor=center},
  ylabel style={at={(axis description cs:-0.111,0.5)}, anchor=center},
]
\addplot[cNC, line width=0.55pt] table[x=f, y=nc] {\specdata};
\addplot[cMOV, line width=0.55pt] table[x=f, y=mov] {\specdata};
\addplot[cFX, line width=0.55pt] table[x=f, y=fx] {\specdata};
\addplot[cMOVV, line width=0.55pt] table[x=f, y=movv] {\specdata};
\end{axis}

% ---------- bottom: variance ----------
\begin{axis}[base,
  at={(39.5pt,-246.5pt)}, anchor=south west, height=49pt,
  xmin=0, xmax=9, ymin=0, ymax=40,
  xtick={0,1,2,3,4,5,6,7,8,9}, xticklabels={0,1,2,3,4,5,6,7,8,9},
  ytick={0,20,40}, yticklabels={0,20,40},
  xticklabel style={anchor=center, yshift=-11.8pt},
  xlabel={{\cjk 时间}/s},
  ylabel={\textit{δ}$^{\hbox{\fontsize{8}{9}\selectfont 2}}_{\hbox{\fontsize{8}{9}\selectfont\itshape y}}$},
  xlabel style={at={(axis description cs:0.5,-0.561)}, anchor=center},
  ylabel style={at={(axis description cs:-0.075,0.5)}, anchor=center},
  legend style={draw=none, fill=none, at={(axis description cs:0,1)}, anchor=north west,
    xshift=2.5pt, yshift=5.2pt, inner sep=0pt,
    font=\fontsize{9.6}{11}\selectfont,
    nodes={inner xsep=0.8pt, inner ysep=0.3pt, text height=7.2pt, text depth=2.4pt},
    row sep=0.5pt},
  legend image code/.code={\draw[#1, line width=0.8pt] (0pt,0pt) -- (26pt,0pt);},
]
\addplot[cFX, line width=0.6pt] table[x=t, y=fx] {\vardata};
\addlegendentry{FxLMS}
\addplot[cMOV, line width=0.6pt] table[x=t, y=mov] {\vardata};
\addlegendentry{MOVFxLMS \textit{ρ}\textsuperscript{2}=25}
\addplot[cMOVV, line width=0.6pt] table[x=t, y=movv] {\vardata};
\addlegendentry{MOV-VFxLMS \textit{ρ}\textsuperscript{2}=100}
\end{axis}
\end{tikzpicture}
\end{document}
